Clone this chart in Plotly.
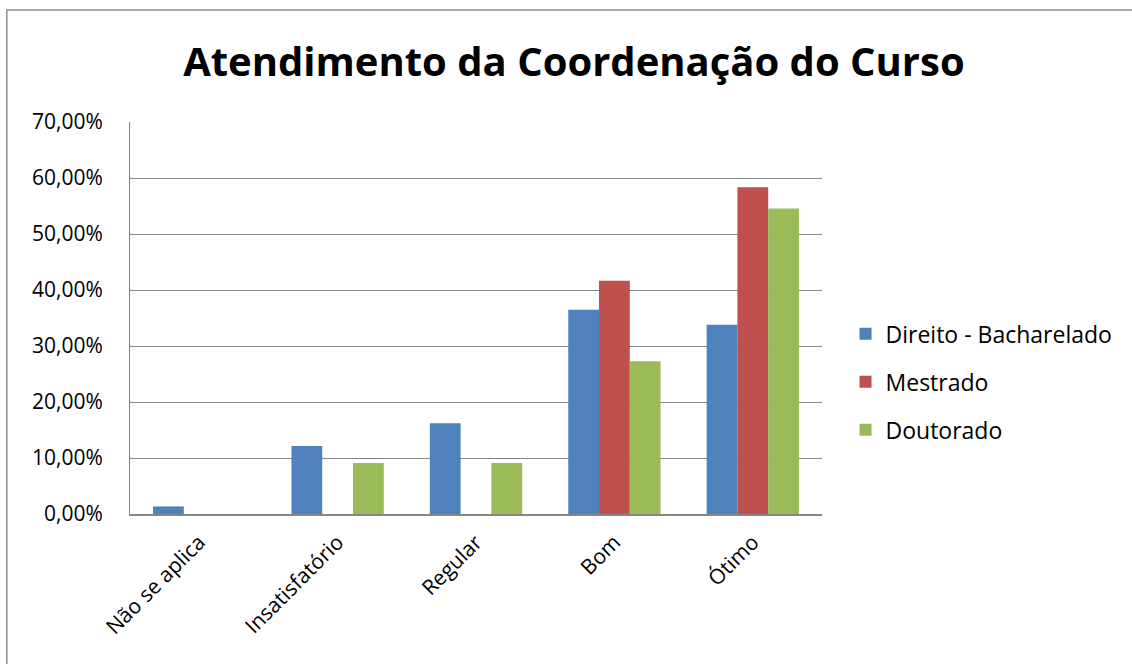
import plotly.graph_objects as go

# dados
categorias = ["Não se aplica", "Insatisfatório", "Regular", "Bom", "Ótimo"]
direito = [0.0135, 0.1216, 0.1622, 0.3649, 0.3378]
mestrado = [0.0, 0.0, 0.0, 0.4167, 0.5833]
doutorado = [0.0, 0.0909, 0.0909, 0.2727, 0.5455]

series = [
    ("Direito - Bacharelado", direito, "#4F81BD"),
    ("Mestrado", mestrado, "#C0504D"),
    ("Doutorado", doutorado, "#9BBB59"),
]

fonte = "Open Sans"

fig = go.Figure()
for i, (nome, vals, cor) in enumerate(series):
    fig.add_trace(go.Bar(
        x=categorias, y=vals, name=nome,
        marker=dict(color=cor, line=dict(width=0)),
        legendgroup=f"g{i}",
    ))

fig.update_layout(
    width=1132, height=664,
    barmode="group", bargap=0.333, bargroupgap=0,
    separators=", ",
    paper_bgcolor="white", plot_bgcolor="white",
    margin=dict(l=130, r=310, t=122, b=150),
    font=dict(family=fonte, color="black"),
    title=dict(
        text="<b>Atendimento da Coordenação do Curso</b>",
        x=0.507, xref="container", xanchor="center",
        y=0.907, yref="container", yanchor="middle",
        font=dict(family=fonte, size=40, color="black"),
    ),
    showlegend=True,
    legend=dict(
        x=1.034, xanchor="left", y=0.337, yanchor="middle",
        font=dict(family=fonte, size=23),
        tracegroupgap=15, itemwidth=30,
        bgcolor="rgba(0,0,0,0)",
    ),
)

fig.update_yaxes(
    range=[0, 0.7], dtick=0.1, tickformat=".2%",
    showgrid=True, gridcolor="#868686", gridwidth=1,
    showline=True, linecolor="#868686", linewidth=1,
    ticks="", tickfont=dict(family=fonte, size=21),
    ticklabelstandoff=22,
    zeroline=False,
)
fig.update_xaxes(
    tickangle=-45, tickfont=dict(family=fonte, size=21),
    showline=True, linecolor="#868686", linewidth=1.5,
    ticks="", showgrid=False, ticklabelstandoff=6,
)

# moldura do gráfico (cortada à direita e embaixo)
fig.add_shape(
    type="path", xref="paper", yref="paper",
    path="M -0.178 -0.5 L -0.178 1.286 L 1.5 1.286",
    line=dict(color="#8c8c8c", width=1.5),
)

fig.write_html("out.html", config={"displayModeBar": False},
               post_script="document.body.style.margin='0';")
